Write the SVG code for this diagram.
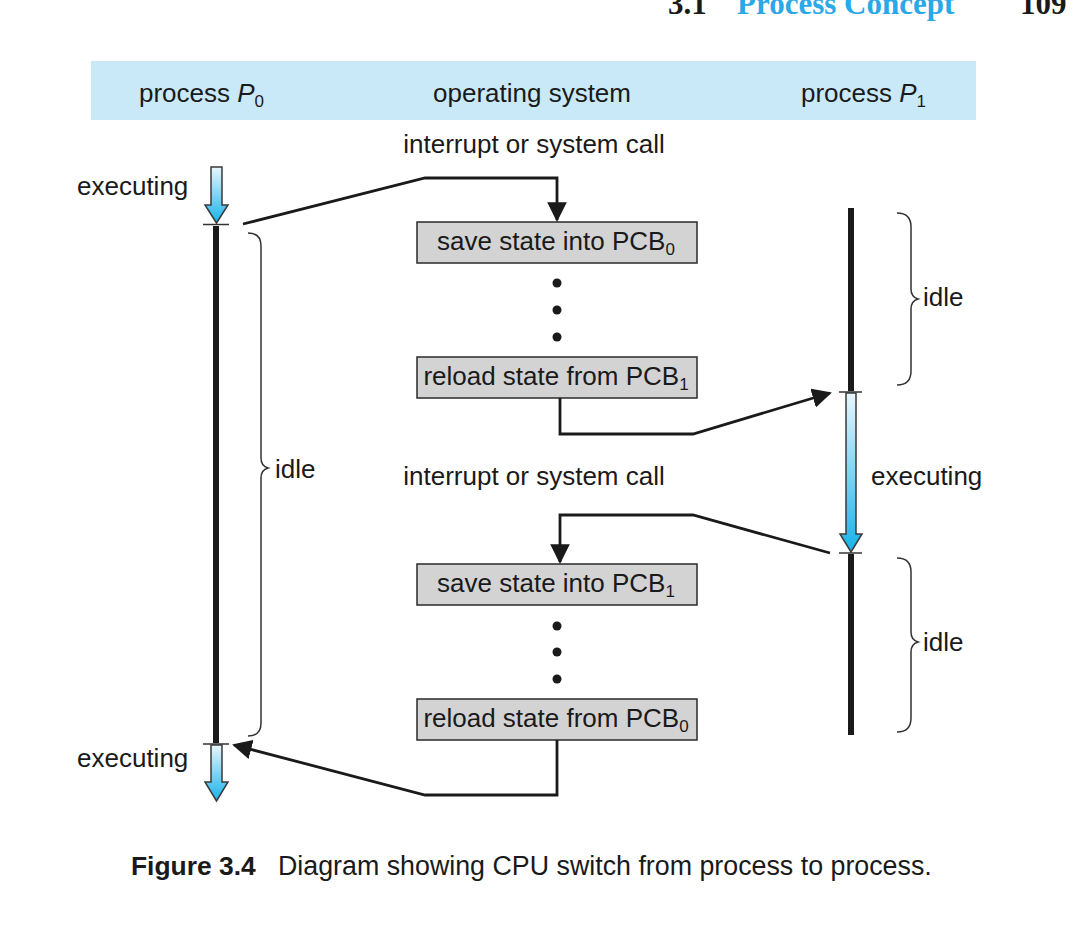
<svg xmlns="http://www.w3.org/2000/svg" width="1076" height="928" viewBox="0 0 1076 928">
<defs>
<linearGradient id="grad" x1="0" y1="0" x2="0" y2="1">
<stop offset="0" stop-color="#e8f6fd"/>
<stop offset="1" stop-color="#16b3ea"/>
</linearGradient>
<marker id="ah2" viewBox="0 0 10 10" refX="9" refY="5" markerWidth="7" markerHeight="7" orient="auto">
<path d="M0,0 L10,5 L0,10 Z" fill="#1a1a1a"/>
</marker>
</defs>
<style>
text{font-family:"Liberation Sans",Arial,Helvetica,sans-serif;font-size:26px;fill:#1a1a1a}
.hdr{font-family:"Liberation Serif","Times New Roman",serif;font-weight:bold;font-size:31px}
.cap{font-size:26.8px}
.capb{font-size:26.4px;font-weight:bold}
.box{fill:#d3d3d3;stroke:#2a2a2a;stroke-width:1.5}
.mid{text-anchor:middle}
.conn{fill:none;stroke:#1a1a1a;stroke-width:2.8;stroke-linejoin:miter}
.bar{stroke:#1a1a1a;stroke-width:6}
.tick{stroke:#333;stroke-width:1.5}
.brace{fill:none;stroke:#333;stroke-width:1.5}
.garrow{fill:url(#grad);stroke:#3a3a3a;stroke-width:1.5}
.dot{fill:#1a1a1a}
</style>
<rect width="1076" height="928" fill="#ffffff"/>
<g id="page-header">
<text class="hdr" x="668" y="14">3.1</text>
<text class="hdr" x="737" y="14" style="fill:#2aa8e8">Process Concept</text>
<text class="hdr" x="1020" y="14">109</text>
</g>
<g id="header-band">
<rect x="91" y="61" width="885" height="59" fill="#c9e9f9"/>
<text x="139" y="102">process <tspan font-style="italic">P</tspan><tspan font-size="17" dy="5">0</tspan></text>
<text x="433" y="102">operating system</text>
<text x="801" y="102">process <tspan font-style="italic">P</tspan><tspan font-size="17" dy="5">1</tspan></text>
</g>
<g id="p0-timeline">
<path class="garrow" d="M211,167 H222 V205 H228 L216.5,223 L205,205 H211 Z"/>
<line class="tick" x1="203" y1="224.5" x2="229" y2="224.5"/>
<line class="bar" x1="216" y1="226" x2="216" y2="743"/>
<line class="tick" x1="203" y1="744" x2="229" y2="744"/>
<path class="garrow" d="M211,745 H222 V782 H228 L216.5,801 L205,782 H211 Z"/>
<text x="77" y="195">executing</text>
<text x="77" y="767">executing</text>
<path class="brace" d="M248,233 Q261,233 261,246 V458 Q261,466 268,468 Q261,470 261,478 V723 Q261,736 248,736"/>
<text x="275" y="478">idle</text>
</g>
<g id="p1-timeline">
<line class="bar" x1="851" y1="208" x2="851" y2="391"/>
<line class="tick" x1="839" y1="392" x2="862" y2="392"/>
<path class="garrow" d="M846,393 H856 V534 H862 L851,552 L840,534 H846 Z"/>
<line class="tick" x1="839" y1="553" x2="862" y2="553"/>
<line class="bar" x1="851" y1="554" x2="851" y2="735"/>
<text x="871" y="485">executing</text>
<path class="brace" d="M897,213 Q911,213 911,227 V289 Q911,297 918,299 Q911,301 911,309 V371 Q911,385 897,385"/>
<text x="923" y="306">idle</text>
<path class="brace" d="M897,558 Q911,558 911,572 V632 Q911,640 918,642 Q911,644 911,652 V718 Q911,732 897,732"/>
<text x="923" y="651">idle</text>
</g>
<g id="os-labels">
<text class="mid" x="534" y="153">interrupt or system call</text>
<text class="mid" x="534" y="485">interrupt or system call</text>
</g>
<g id="box-save0">
<rect class="box" x="417" y="222" width="280" height="41"/>
<text class="mid" x="556" y="250">save state into PCB<tspan font-size="17" dy="5">0</tspan></text>
</g>
<g id="dots1">
<circle class="dot" cx="557" cy="283" r="4.5"/>
<circle class="dot" cx="557" cy="310" r="4.5"/>
<circle class="dot" cx="557" cy="337" r="4.5"/>
</g>
<g id="box-reload1">
<rect class="box" x="417" y="357" width="280" height="41"/>
<text class="mid" x="556" y="385">reload state from PCB<tspan font-size="17" dy="5">1</tspan></text>
</g>
<g id="box-save1">
<rect class="box" x="417" y="564" width="280" height="41"/>
<text class="mid" x="556" y="592">save state into PCB<tspan font-size="17" dy="5">1</tspan></text>
</g>
<g id="dots2">
<circle class="dot" cx="557" cy="626" r="4.5"/>
<circle class="dot" cx="557" cy="652" r="4.5"/>
<circle class="dot" cx="557" cy="679" r="4.5"/>
</g>
<g id="box-reload0">
<rect class="box" x="417" y="699" width="280" height="41"/>
<text class="mid" x="556" y="727">reload state from PCB<tspan font-size="17" dy="5">0</tspan></text>
</g>
<g id="connectors">
<path class="conn" d="M243,224 L425,178 H557 V220" marker-end="url(#ah2)"/>
<path class="conn" d="M560,398 V434 H693 L830,393" marker-end="url(#ah2)"/>
<path class="conn" d="M830,553 L693,515 H560 V562" marker-end="url(#ah2)"/>
<path class="conn" d="M557,740 V795 H425 L234,745" marker-end="url(#ah2)"/>
</g>
<g id="caption">
<text class="capb" x="131" y="875">Figure 3.4</text>
<text class="cap" x="278" y="875">Diagram showing CPU switch from process to process.</text>
</g>
</svg>
